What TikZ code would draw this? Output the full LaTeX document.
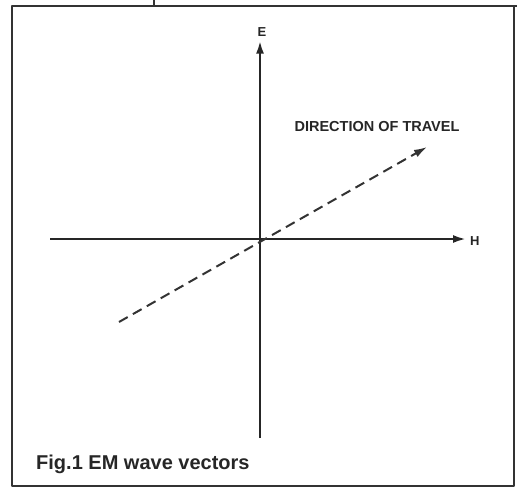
\documentclass[tikz,border=0pt]{standalone}
\usepackage{fontspec}
\setmainfont{Liberation Sans}
\usetikzlibrary{arrows.meta}
\begin{document}
\begin{tikzpicture}[
        x=1pt, y=-1pt,
        line join=round,
        % styles
        frame/.style={line width=2.2pt, draw=black!80},
        axis/.style={line width=2.3pt, draw=black!85, -{Latex[length=13pt,width=8pt]}},
        travel/.style={line width=2pt, draw=black!80, dash pattern=on 10pt off 6pt, -{Latex[length=13pt,width=8pt]}},
        lbl/.style={font=\bfseries\fontsize{13}{13}\selectfont, text=black!85, inner sep=0pt},
        caption/.style={font=\bfseries\fontsize{20}{20}\selectfont, text=black!85, inner sep=0pt, anchor=west},
    ]
    \useasboundingbox (0,0) rectangle (517,491);

    % frame
    \coordinate (TL) at (12,6);
    \coordinate (TR) at (517,6);
    \coordinate (BL) at (12,486);
    \coordinate (BR) at (514,486);
    \coordinate (RT) at (514,6);
    \coordinate (Tk) at (154,0);
    \coordinate (Tb) at (154,6);
    \draw[frame] (TR) -- (TL) -- (BL) -- (BR) -- (RT);
    \draw[frame] (Tk) -- (Tb);

    % axis labels
    \node[lbl] (E) at (262,32) {E};
    \node[lbl, anchor=west] (H) at (470,241) {H};
    \node[lbl, font=\bfseries\fontsize{14.5}{14.5}\selectfont] (dir) at (377,127) {DIRECTION OF TRAVEL};

    % axes
    \coordinate (Eb) at (260,438);
    \coordinate (Hl) at (50,239);
    \draw[axis, shorten >=4pt] (Eb) -- (E.south -| Eb);
    \draw[axis, shorten >=4pt] (Hl) -- (H.west |- Hl);

    % direction of travel
    \coordinate (P0) at (119,322);
    \coordinate (P1) at (427,147);
    \draw[travel] (P0) -- (P1);

    \node[caption] (cap) at (36,464) {Fig.1 EM wave vectors};
\end{tikzpicture}
\end{document}
